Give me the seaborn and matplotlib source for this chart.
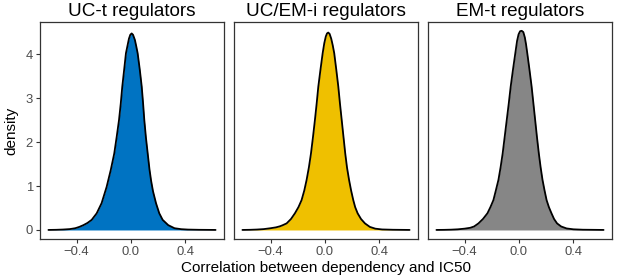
"""
Density of correlation between dependency and IC50, one panel per regulator group.
"""

import matplotlib

matplotlib.use("Agg")
import matplotlib.pyplot as plt
import pandas as pd
import seaborn as sns

# Panel titles and fill colours
groups = ["UC-t regulators", "UC/EM-i regulators", "EM-t regulators"]
colors = ["#0073C2", "#EFC000", "#868686"]

# Density curves
uct_x = [-0.607, -0.55, -0.50, -0.45, -0.41, -0.38, -0.35, -0.32, -0.289, -0.252,
         -0.216, -0.179, -0.149, -0.123, -0.105, -0.088, -0.075, -0.064, -0.05,
         -0.037, -0.025, -0.015, -0.005, 0.005, 0.015, 0.029, 0.04, 0.049, 0.065,
         0.079, 0.089, 0.098, 0.11, 0.123, 0.136, 0.148, 0.162, 0.184, 0.208, 0.233,
         0.274, 0.32, 0.37, 0.42, 0.50, 0.622]
uct_d = [0.001, 0.004, 0.01, 0.02, 0.04, 0.07, 0.11, 0.16, 0.23, 0.38,
         0.61, 0.98, 1.36, 1.74, 2.12, 2.5, 2.88, 3.26, 3.65,
         4.02, 4.2, 4.35, 4.44, 4.47, 4.44, 4.32, 4.16, 4.02, 3.64,
         3.26, 2.88, 2.5, 2.1, 1.74, 1.38, 1.12, 0.88, 0.61, 0.38, 0.23,
         0.11, 0.04, 0.018, 0.009, 0.004, 0.001]

ucem_x = [-0.607, -0.55, -0.50, -0.45, -0.40, -0.36, -0.33, -0.31, -0.282, -0.25,
          -0.221, -0.195, -0.172, -0.152, -0.135, -0.118, -0.103, -0.088, -0.074,
          -0.061, -0.049, -0.033, -0.017, -0.005, 0.006, 0.015, 0.024, 0.034,
          0.046, 0.057, 0.068, 0.083, 0.098, 0.11, 0.123, 0.136, 0.149, 0.162,
          0.177, 0.192, 0.208, 0.222, 0.240, 0.265, 0.294, 0.33, 0.37, 0.42,
          0.50, 0.622]
ucem_d = [0.001, 0.004, 0.01, 0.02, 0.04, 0.06, 0.085, 0.11, 0.15, 0.25,
          0.38, 0.52, 0.68, 0.9, 1.14, 1.43, 1.74, 2.12, 2.5,
          2.88, 3.26, 3.65, 4.02, 4.25, 4.4, 4.47, 4.49, 4.46,
          4.35, 4.2, 4.02, 3.65, 3.26, 2.88, 2.5, 2.12, 1.74, 1.42,
          1.14, 0.9, 0.68, 0.52, 0.38, 0.25, 0.15, 0.07, 0.03, 0.012,
          0.005, 0.001]

emt_x = [-0.607, -0.55, -0.50, -0.45, -0.40, -0.358, -0.33, -0.298, -0.265, -0.232,
         -0.21, -0.188, -0.17, -0.151, -0.135, -0.12, -0.105, -0.09, -0.075,
         -0.061, -0.044, -0.027, -0.014, -0.003, 0.008, 0.02, 0.032, 0.043, 0.052,
         0.061, 0.077, 0.093, 0.106, 0.119, 0.132, 0.146, 0.159, 0.173, 0.188,
         0.203, 0.22, 0.239, 0.258, 0.28, 0.31, 0.35, 0.40, 0.47, 0.622]
emt_d = [0.001, 0.003, 0.007, 0.015, 0.03, 0.05, 0.08, 0.15, 0.25, 0.38,
         0.52, 0.68, 0.9, 1.14, 1.43, 1.74, 2.12, 2.5, 2.88,
         3.26, 3.65, 4.02, 4.3, 4.45, 4.52, 4.53, 4.5, 4.38, 4.22,
         4.02, 3.65, 3.26, 2.88, 2.5, 2.12, 1.74, 1.43, 1.14, 0.9,
         0.68, 0.52, 0.38, 0.25, 0.15, 0.08, 0.035, 0.015, 0.006, 0.001]

xticks = [-0.4, 0.0, 0.4]
xtick_labels = ["\u22120.4", "0.0", "0.4"]
yticks = [0, 1, 2, 3, 4]

curves = [(uct_x, uct_d), (ucem_x, ucem_d), (emt_x, emt_d)]
df = pd.concat(
    [
        pd.DataFrame({"group": g, "x": xs, "density": ds})
        for g, (xs, ds) in zip(groups, curves)
    ],
    ignore_index=True,
)

sns.set_theme(style="white")
plt.rcParams["font.family"] = ["Liberation Sans", "DejaVu Sans"]

W, H = 617, 278
fig = plt.figure(figsize=(W / 100, H / 100), dpi=100)

left0, step, width = 40, 194, 184
top, bottom = 22, 239

for i, (group, color) in enumerate(zip(groups, colors)):
    ax = fig.add_axes(
        [(left0 + i * step) / W, (H - bottom) / H, width / W, (bottom - top) / H]
    )
    sub = df[df["group"] == group]
    ax.fill_between(sub["x"], sub["density"], color=color, linewidth=0)
    sns.lineplot(
        data=sub, x="x", y="density", sort=False, color="black",
        linewidth=1.3, ax=ax, estimator=None,
    )
    ax.set_xlim(-0.669, 0.684)
    ax.set_ylim(-0.205, 4.73)
    ax.set_xticks(xticks)
    ax.set_xticklabels(xtick_labels)
    ax.set_yticks(yticks)
    if i > 0:
        ax.set_yticklabels([])
    ax.set_xlabel("")
    ax.set_ylabel("")
    ax.tick_params(
        axis="both", which="both", direction="out", length=2.8, width=0.8,
        color="#333333", labelcolor="#4D4D4D", labelsize=9.4, pad=2.2,
        bottom=True, left=True,
    )
    if i > 0:
        ax.tick_params(axis="y", left=False)
    for spine in ax.spines.values():
        spine.set_color("#333333")
        spine.set_linewidth(0.9)
    ax.set_title(group, fontsize=13.6, pad=4.5, color="black")

fig.text(326 / W, (H - 272) / H, "Correlation between dependency and IC50",
         ha="center", va="baseline", fontsize=11, color="black")
fig.text(11 / W, 1 - ((top + bottom) / 2) / H, "density", rotation=90,
         ha="center", va="center", fontsize=11, color="black")

fig.savefig("out.png", dpi=100)
